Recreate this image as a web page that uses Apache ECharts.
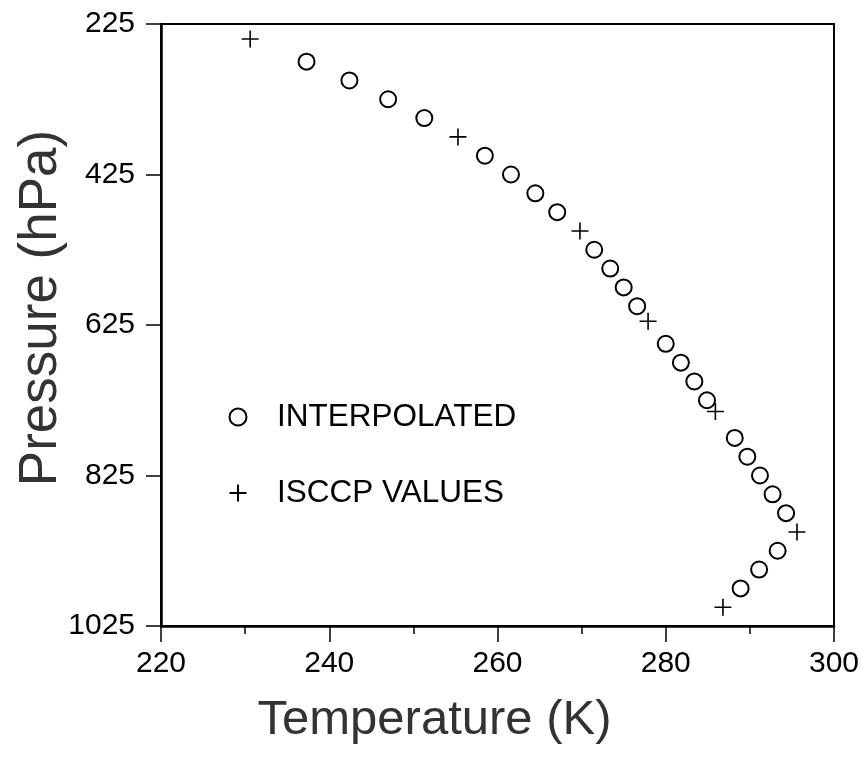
<!DOCTYPE html>
<html>
<head>
<meta charset="utf-8">
<script src="https://cdn.jsdelivr.net/npm/echarts@6/dist/echarts.min.js"></script>
<style>html,body{margin:0;padding:0;background:#fff;}#c{width:865px;height:771px;}</style>
</head>
<body>
<div id="c"></div>
<script>
// Interpolated profile (temperature K, pressure hPa)
var interpT = [237.3, 242.4, 247.0, 251.3, 258.5, 261.6, 264.5, 267.1, 271.5, 273.4, 275.0, 276.6, 280.0, 281.8, 283.4, 284.9, 288.2, 289.7, 291.2, 292.7, 294.3, 293.3, 291.1, 288.9];
var interpP = [275, 300, 325, 350, 400, 425, 450, 475, 525, 550, 575, 600, 650, 675, 700, 725, 775, 800, 825, 850, 875, 925, 950, 975];
// ISCCP values
var isccpT = [230.6, 255.3, 269.8, 277.9, 285.9, 295.6, 286.8];
var isccpP = [245, 375, 500, 620, 740, 900, 1000];
// Axis ticks
var xTicks = [220, 240, 260, 280, 300];
var yTicks = [225, 425, 625, 825, 1025];
var seriesNames = ['INTERPOLATED', 'ISCCP VALUES'];

function pairs(a, b) { return a.map(function (v, i) { return [v, b[i]]; }); }

var FONT = '"Liberation Sans", Arial, Helvetica, sans-serif';
var chart = echarts.init(document.getElementById('c'), null, {renderer: 'canvas'});
chart.setOption({
  animation: false,
  backgroundColor: '#fff',
  grid: {left: 161, right: 31, top: 24, bottom: 145, show: true, borderColor: '#000', borderWidth: 2, backgroundColor: 'transparent'},
  legend: {
    orient: 'vertical', left: 222, top: 396, itemGap: 44,
    itemWidth: 68, itemHeight: 17,
    textStyle: {fontFamily: FONT, fontSize: 31.5, color: '#000'},
    data: seriesNames
  },
  xAxis: {
    type: 'value', min: xTicks[0], max: xTicks[xTicks.length - 1], interval: 20,
    name: 'Temperature (K)', nameLocation: 'middle', nameGap: 70, nameMoveOverlap: false,
    nameTextStyle: {fontFamily: FONT, fontSize: 49, color: '#333', padding: [0, 126, 0, 0]},
    axisLine: {show: true, lineStyle: {color: '#000', width: 2.5}},
    axisTick: {show: true, inside: false, length: 16, lineStyle: {color: '#000', width: 1.5}},
    minorTick: {show: true, splitNumber: 2, length: 8, lineStyle: {color: '#000', width: 1.5}},
    axisLabel: {fontFamily: FONT, fontSize: 30, color: '#000', margin: 23, formatter: function (v) { return String(v); }},
    splitLine: {show: false}
  },
  yAxis: {
    type: 'value', min: yTicks[0], max: yTicks[yTicks.length - 1], inverse: true,
    name: 'Pressure (hPa)', nameLocation: 'middle', nameGap: 93, nameMoveOverlap: false,
    nameTextStyle: {fontFamily: FONT, fontSize: 53, color: '#333', padding: [0, 0, 0, 34]},
    axisLine: {show: true, lineStyle: {color: '#000', width: 2.5}},
    axisTick: {show: true, inside: false, length: 15, customValues: yTicks, lineStyle: {color: '#000', width: 1.5}},
    axisLabel: {fontFamily: FONT, fontSize: 30, color: '#000', margin: 26, customValues: yTicks, formatter: function (v) { return String(v); }},
    splitLine: {show: false}
  },
  series: [
    {
      name: seriesNames[0], type: 'scatter', symbol: 'circle', symbolSize: 16,
      itemStyle: {color: '#fff', borderColor: '#000', borderWidth: 2, opacity: 1},
      data: pairs(interpT, interpP)
    },
    {
      name: seriesNames[1], type: 'scatter', symbol: 'path://M10,0L10,20M0,10L20,10', symbolSize: 17,
      itemStyle: {color: 'none', borderColor: '#000', borderWidth: 1.6, opacity: 1},
      data: pairs(isccpT, isccpP)
    }
  ]
});
</script>
</body>
</html>
